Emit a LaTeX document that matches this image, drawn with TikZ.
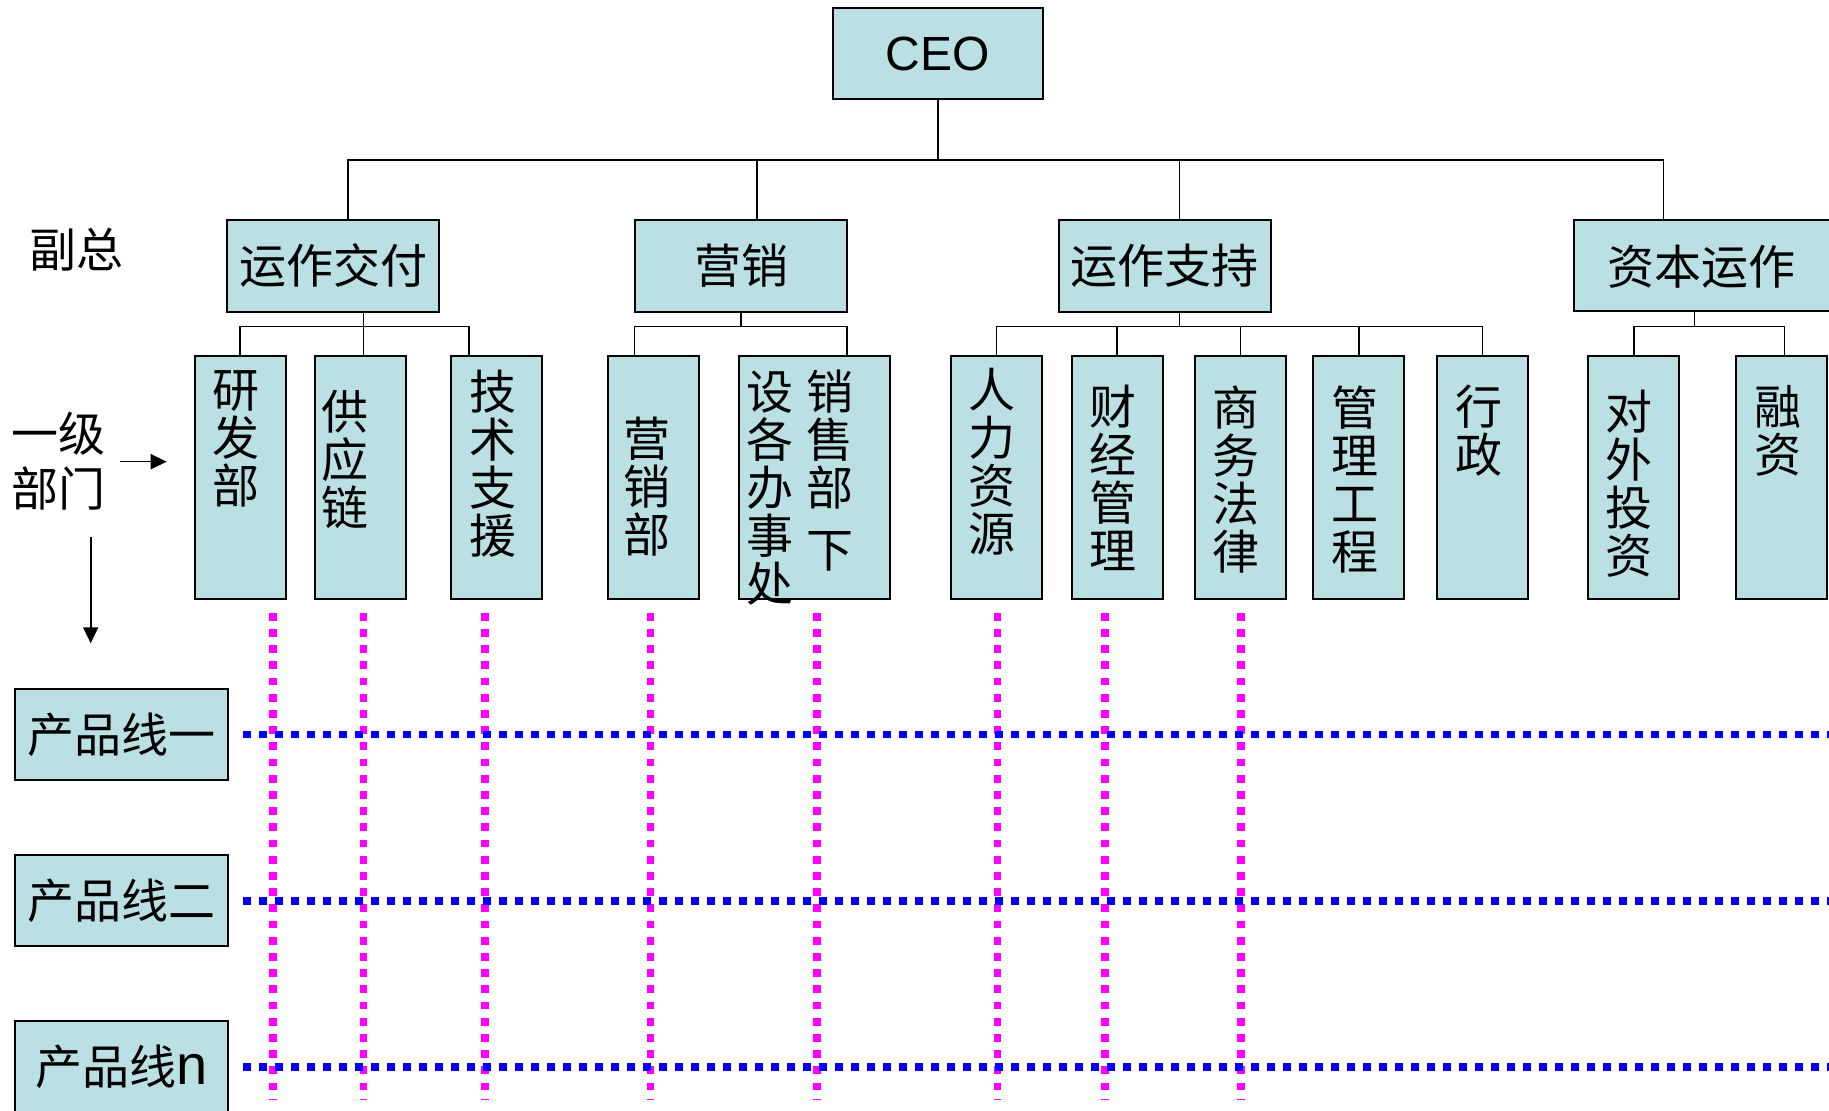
\documentclass[tikz,border=0pt]{standalone}
\usepackage{fontspec}
\setmainfont{Noto Sans CJK SC}
\newfontfamily\arial{Liberation Sans}
\usetikzlibrary{arrows.meta}
\definecolor{boxc}{HTML}{BBE0E3}
\definecolor{mag}{HTML}{FF00FF}
\definecolor{blu}{HTML}{0000FF}
\begin{document}
\begin{tikzpicture}[x=0.5pt,y=-0.5pt,
  obox/.style={draw=black,line width=1pt,fill=boxc,inner sep=0pt},
  wbox/.style={obox,minimum width=106pt,minimum height=46pt},
  dbox/.style={obox,minimum width=45.5pt,minimum height=121.5pt},
  pbox/.style={obox,minimum width=106.2pt,minimum height=45.6pt},
  txt/.style={font=\fontsize{23.5}{24}\selectfont,inner sep=0pt},
  vt/.style={txt,align=center,anchor=north},
  conn/.style={draw=black,line width=0.8pt},
  arr/.style={line width=0.8pt,-{Triangle[length=8pt,width=7.5pt]}},
  magl/.style={draw=mag,line width=3.8pt,dash pattern=on 3.9pt off 4.2pt},
  blul/.style={draw=blu,line width=3.9pt,dash pattern=on 3.9pt off 4.1pt}]
\useasboundingbox (0,0) rectangle (1829,1111);

% CEO
\node[obox,minimum width=105.2pt,minimum height=45.5pt] (ceo) at (937.8,53.8) {\fontsize{24}{24}\selectfont\arial CEO};

% vice presidents
\node[wbox,txt] (vp1) at (333,266) {运作交付};
\node[wbox,txt] (vp2) at (741,266) {营销};
\node[wbox,txt] (vp3) at (1164.9,266) {运作支持};
\node[obox,minimum width=133.2pt,minimum height=45.5pt] (vp4) at (1706.8,265.5) {};
\node[txt] (vp4t) at (1701,267) {资本运作};

% departments
\node[dbox] (rd) at (240.1,477.5) {};
\node[dbox] (gy) at (360,477.5) {};
\node[dbox] (js) at (496.8,477.5) {};
\node[dbox] (yx) at (653,477.5) {};
\node[obox,minimum width=75.6pt,minimum height=121.5pt] (xs) at (814.1,477.5) {};
\node[dbox] (rl) at (996.3,477.5) {};
\node[dbox] (cj) at (1117,477.5) {};
\node[dbox] (sw) at (1240.6,477.5) {};
\node[dbox] (gl) at (1358.8,477.5) {};
\node[dbox] (xz) at (1482.6,477.5) {};
\node[dbox] (dw) at (1633.7,477.5) {};
\node[dbox] (rz) at (1781.7,477.5) {};

\node[vt] (rdt) at (236,370) {研\\发\\部};
\node[vt] (gyt) at (344.5,389.5) {供\\应\\链};
\node[vt] (jst) at (492.6,370) {技\\术\\支\\援};
\node[vt] (yxt) at (646.7,417) {营\\销\\部};
\node[vt] (xst1) at (770,370) {设\\各\\办\\事\\处};
\node[vt] (xst2) at (830,370) {销\\售\\部\\[7pt]下};
\node[vt] (rlt) at (992,368) {人\\力\\资\\源};
\node[vt] (cjt) at (1113,385) {财\\经\\管\\理};
\node[vt] (swt) at (1236,385) {商\\务\\法\\律};
\node[vt] (glt) at (1355,385) {管\\理\\工\\程};
\node[vt] (xzt) at (1479,385) {行\\政};
\node[vt] (dwt) at (1629,390) {对\\外\\投\\资};
\node[vt] (rzt) at (1778,385) {融\\资};

% product lines
\node[pbox,txt] (pl1) at (121.5,734.4) {产品线一};
\node[pbox,txt] (pl2) at (121.5,900.7) {产品线二};
\node[pbox,txt] (pl3) at (121.5,1066.7) {产品线{\fontsize{28}{28}\selectfont\arial n}};

% side labels
\node[txt] (fz) at (76.5,250) {副总};
\node[txt,align=center,anchor=north,font=\fontsize{23.5}{27.5}\selectfont] (yj) at (58.3,411.7) {一级\\部门};
\coordinate (ra1) at (120,461.7);
\coordinate (ra2) at (166.7,461.7);
\coordinate (da1) at (90.7,536.7);
\coordinate (da2) at (90.7,643.3);
\draw[arr] (ra1) -- (ra2);
\draw[arr] (da1) -- (da2);

% CEO bus
\coordinate (bus) at (937.8,160);
\draw[conn] (ceo.south) -- (bus);
\draw[conn] ([xshift=7.5pt]vp1.north) |- (bus);
\draw[conn] ([xshift=8pt]vp2.north) |- (bus);
\draw[conn] ([xshift=7.35pt]vp3.north) |- (bus);
\draw[conn] ([xshift=-21.6pt]vp4.north) |- (bus);

% sub buses
\coordinate (s1) at (363.5,326.6);
\draw[conn] (vp1.south -| s1) -- (s1);
\draw[conn] (rd.north) |- (s1);
\draw[conn] (gy.north -| s1) -- (s1);
\draw[conn] ([xshift=-13.9pt]js.north) |- (s1);

\coordinate (s2) at (741,326.6);
\draw[conn] (vp2.south) -- (s2);
\draw[conn] ([xshift=-9.2pt]yx.north) |- (s2);
\draw[conn] ([xshift=16.45pt]xs.north) |- (s2);

\coordinate (s3) at (1179.6,326.6);
\draw[conn] (vp3.south -| s3) -- (s3);
\foreach \n in {rl,cj,sw,gl,xz} \draw[conn] (\n.north) |- (s3);

\coordinate (s4) at (1694.4,326.6);
\draw[conn] (vp4.south -| s4) -- (s4);
\draw[conn] (dw.north) |- (s4);
\draw[conn] ([xshift=1.4pt]rz.north) |- (s4);

% matrix lines
\foreach \x in {273,363.5,484.7,650.5,817,997.5,1104.8,1240.8}
  \draw[magl] (\x,612.8) -- (\x,1100);
\draw[blul] ([xshift=7.3pt]pl1.east) -- ++(820pt,0);
\draw[blul] ([xshift=7.3pt]pl2.east) -- ++(820pt,0);
\draw[blul] ([xshift=7.3pt]pl3.east) -- ++(820pt,0);
\end{tikzpicture}
\end{document}
